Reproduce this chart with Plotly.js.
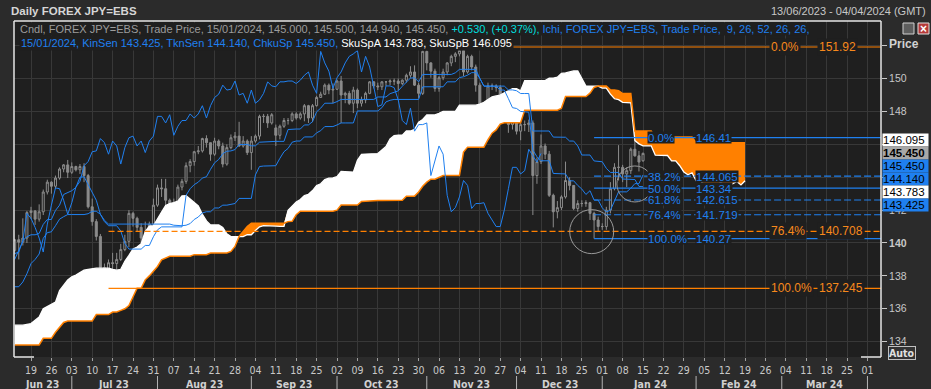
<!DOCTYPE html>
<html><head><meta charset="utf-8">
<script src="https://cdn.plot.ly/plotly-3.0.1.min.js"></script>
<style>html,body{margin:0;padding:0;background:#2b2b2b;}#chart{width:931px;height:389px;}</style>
</head><body><div id="chart"></div>
<script>
// ---------------- DATA ----------------
const START_DATE = '2023-06-13';
const CLOUD_DAYS = 180;      // trading days incl. projected cloud
const SHIFT = 25;            // displacement of cloud / chikou (bars)

const openP = [
139.55,140.20,140.05,140.30,141.85,141.95,141.45,141.90,143.10,143.70,
143.45,143.95,144.50,144.75,144.30,144.65,144.45,144.65,144.10,142.20,
141.30,140.40,138.50,138.05,138.80,138.75,139.00,139.60,140.10,141.80,
141.50,140.95,140.30,139.45,141.15,142.30,143.35,143.30,142.60,141.75,
142.45,143.40,143.75,144.70,144.95,145.55,145.60,146.35,146.10,145.40,
146.20,145.90,144.80,145.80,146.40,146.50,145.90,146.20,145.50,146.20,
146.50,147.70,147.70,147.30,147.00,146.55,147.10,147.45,147.45,147.85,
147.60,147.85,148.35,147.60,148.35,148.85,149.05,149.60,149.30,149.35,
149.85,149.00,149.10,148.50,149.30,148.50,148.70,149.10,149.80,149.55,
149.50,149.80,149.80,149.85,149.85,149.70,149.90,150.20,150.40,149.60,
149.10,151.65,150.95,150.45,149.40,150.05,150.40,150.95,151.35,151.50,
151.70,150.40,151.35,150.70,149.60,148.30,148.40,149.55,149.55,149.45,
148.70,147.45,147.20,148.20,146.80,147.20,147.20,147.30,144.10,144.95,
145.90,145.40,142.90,141.90,142.15,142.80,143.80,143.50,142.10,142.40,
142.40,142.45,141.80,141.40,141.00,141.00,142.00,143.30,144.60,144.60,
144.20,144.40,145.70,145.30,145.00];
const highP = [
140.25,140.50,141.50,141.95,142.20,142.00,142.35,143.25,143.85,143.75,
144.10,144.60,144.80,145.05,144.90,144.70,144.80,144.85,144.20,142.70,
141.45,140.55,138.75,139.00,139.40,139.40,139.95,140.50,142.00,141.90,
141.60,141.20,141.30,141.30,142.70,143.55,143.90,143.90,142.70,142.70,
143.55,143.90,144.90,145.10,145.60,145.90,146.40,146.55,146.10,146.40,
146.30,146.10,146.00,146.60,146.75,147.37,146.50,146.30,146.50,146.60,
147.80,147.85,147.85,147.90,147.20,147.20,147.60,147.60,147.95,147.95,
147.95,148.45,148.40,148.45,148.95,149.20,149.70,149.70,149.70,149.90,
150.16,149.20,149.25,149.50,149.40,148.90,149.20,149.85,149.85,149.75,
149.85,149.85,149.95,150.00,150.00,149.95,150.30,150.75,150.80,149.75,
151.70,151.70,151.00,150.60,150.15,150.60,151.00,151.45,151.60,151.92,
151.90,151.45,151.45,150.85,149.75,148.50,149.75,149.70,149.65,149.60,
148.80,147.60,148.30,148.30,147.30,147.45,147.50,147.45,145.20,146.60,
146.05,145.60,143.00,142.55,142.90,144.95,144.00,143.50,142.60,142.60,
142.60,142.50,141.90,141.60,141.20,142.20,143.70,144.85,145.95,144.75,
144.60,145.80,146.41,145.60,145.50];
const lowP = [
139.30,139.00,139.85,140.00,141.45,141.10,141.30,141.70,142.95,143.00,
143.30,143.85,144.30,143.95,144.20,144.35,144.20,143.70,142.10,141.05,
140.15,138.45,137.70,137.25,138.40,137.70,138.90,139.50,139.75,141.00,
140.70,140.00,138.90,138.05,140.90,142.20,142.80,142.30,141.55,141.50,
142.40,143.20,143.60,144.30,144.70,145.40,145.50,145.80,145.00,145.30,
145.70,144.60,144.70,145.70,146.20,145.85,145.80,145.35,144.45,146.10,
146.30,147.30,147.00,147.20,145.90,146.30,147.00,147.20,147.35,147.50,
147.50,147.40,147.30,147.35,148.30,148.85,149.00,149.05,148.50,149.30,
147.30,148.50,148.40,147.90,148.20,148.30,148.50,149.05,149.40,149.30,
149.30,149.55,149.60,149.60,149.30,149.60,149.75,150.05,149.55,148.80,
149.00,150.50,150.05,149.20,149.20,149.90,150.20,150.75,151.00,151.35,
150.15,150.30,150.50,149.20,148.10,147.15,148.35,149.30,149.20,148.50,
147.40,146.70,146.90,146.60,146.25,146.80,146.75,141.70,143.60,144.80,
145.10,142.80,140.95,141.50,142.00,142.70,143.20,142.00,141.90,142.20,
142.20,141.40,140.27,140.70,140.80,140.80,141.80,143.20,143.80,143.70,
143.40,144.20,145.25,144.35,144.94];
const closeP = [
140.20,140.05,140.30,141.85,141.95,141.45,141.90,143.10,143.70,143.45,
143.95,144.50,144.75,144.30,144.65,144.45,144.65,144.10,142.20,141.30,
140.40,138.50,138.05,138.80,138.75,139.00,139.60,140.10,141.80,141.50,
140.95,140.30,139.45,141.15,142.30,143.35,143.30,142.60,141.75,142.45,
143.40,143.75,144.70,144.95,145.55,145.60,146.35,146.10,145.40,146.20,
145.90,144.80,145.80,146.40,146.50,145.90,146.20,145.50,146.20,146.50,
147.70,147.70,147.30,147.80,146.55,147.10,147.45,147.45,147.85,147.60,
147.85,148.35,147.60,148.35,148.85,149.05,149.60,149.30,149.35,149.85,
149.00,149.10,148.50,149.30,148.50,148.70,149.10,149.80,149.55,149.50,
149.80,149.80,149.85,149.85,149.70,149.90,150.20,150.40,149.60,149.10,
151.65,150.95,150.45,149.40,150.05,150.40,150.95,151.35,151.50,151.70,
150.40,151.35,150.70,149.60,148.30,148.40,149.55,149.55,149.45,148.70,
147.45,147.20,148.20,146.80,147.20,147.20,147.30,144.10,144.95,145.90,
145.40,142.90,141.90,142.15,142.80,143.80,143.50,142.10,142.40,142.40,
142.45,141.80,141.40,141.00,141.00,142.00,143.30,144.60,144.60,144.20,
144.40,145.70,145.30,144.92,145.45];

const tenkan = [
139.35,139.45,140.15,140.38,140.50,140.50,140.58,141.13,141.43,141.43,
141.98,142.30,142.95,143.08,143.18,143.38,144.00,144.03,143.58,143.05,
142.60,141.75,141.30,141.05,141.05,141.05,140.73,139.98,139.63,139.63,
139.63,139.63,139.85,139.85,140.38,140.80,140.98,140.98,140.98,140.98,
140.98,140.98,142.90,143.30,143.55,143.70,143.95,144.03,144.48,144.88,
145.08,145.43,145.58,145.60,145.68,145.99,145.99,145.99,145.91,145.91,
146.13,146.15,146.15,146.18,146.18,146.18,146.18,146.90,146.93,146.93,
146.93,147.18,147.18,147.38,147.98,148.20,148.50,148.50,148.50,148.60,
148.73,148.73,148.73,148.73,148.73,148.73,148.73,148.73,148.73,148.88,
148.88,148.88,149.08,149.15,149.25,149.53,149.80,150.03,150.05,149.80,
150.25,150.25,150.25,150.25,150.25,150.25,150.25,150.25,150.35,150.56,
150.56,150.56,150.56,150.56,150.01,149.54,149.54,149.54,149.53,149.30,
149.30,148.78,148.23,148.18,148.00,147.98,147.95,145.65,145.25,145.00,
145.00,145.00,144.23,144.23,144.23,144.20,143.78,143.78,143.50,143.28,
142.95,143.18,142.61,142.61,142.14,141.89,141.99,142.56,143.11,143.11,
143.11,143.33,143.61,143.61,144.14];
const kijun = [
137.34,137.34,137.63,138.13,138.75,139.00,139.33,140.28,140.63,140.68,
141.05,141.45,141.60,141.73,141.73,141.73,141.73,141.73,141.78,141.93,
141.93,141.75,141.38,141.15,141.15,141.15,141.15,141.15,141.15,141.15,
141.15,141.15,141.15,141.15,141.15,141.15,141.15,141.15,141.15,141.08,
141.05,141.05,141.08,141.18,141.43,141.58,141.83,141.90,141.90,142.13,
142.13,142.30,142.30,142.33,142.40,142.71,142.71,142.71,142.71,144.14,
144.65,144.68,144.68,144.70,144.70,145.15,145.55,145.75,146.13,146.20,
146.20,146.45,146.45,146.45,146.70,146.83,147.08,147.08,147.08,147.18,
147.30,147.30,147.30,147.30,148.03,148.03,148.03,148.03,148.03,148.03,
148.23,148.58,148.68,148.73,148.73,148.73,148.73,148.73,148.73,148.73,
149.50,149.50,149.50,149.50,149.50,149.50,149.80,149.80,149.80,150.06,
150.11,150.21,150.36,150.36,150.01,149.54,149.54,149.54,149.54,149.54,
149.54,149.31,149.31,149.26,149.09,149.09,149.09,146.81,146.81,146.81,
146.81,146.81,146.44,146.44,146.44,146.43,146.20,146.20,145.90,145.35,
145.35,145.35,144.99,144.96,144.94,144.54,144.29,144.29,144.29,143.89,
143.89,143.89,143.86,143.44,143.425];
const spanA = [
135.00,135.00,135.00,135.05,135.10,135.30,135.50,136.00,136.15,136.25,
136.40,137.10,137.45,137.75,137.95,138.05,138.20,138.35,138.40,138.45,
138.47,138.47,138.47,138.47,138.40,
138.35,138.40,138.89,139.25,139.63,139.75,139.95,140.70,141.03,141.05,
141.51,141.88,142.28,142.40,142.45,142.55,142.86,142.88,142.68,142.49,
142.26,141.75,141.34,141.10,141.10,141.10,140.94,140.56,140.39,140.39,
140.39,140.39,140.50,140.50,140.76,140.98,141.06,141.06,141.06,141.03,
141.01,141.01,141.99,142.24,142.49,142.64,142.89,142.96,143.19,143.50,
143.60,143.86,143.94,143.96,144.04,144.35,144.35,144.35,144.31,145.03,
145.39,145.41,145.41,145.44,145.44,145.66,145.86,146.33,146.53,146.56,
146.56,146.81,146.81,146.91,147.34,147.51,147.79,147.79,147.79,147.89,
148.01,148.01,148.01,148.01,148.38,148.38,148.38,148.38,148.38,148.45,
148.55,148.73,148.88,148.94,148.99,149.13,149.26,149.38,149.39,149.26,
149.88,149.88,149.88,149.88,149.88,149.88,150.03,150.03,150.08,150.31,
150.34,150.39,150.46,150.46,150.01,149.54,149.54,149.54,149.54,149.42,
149.42,149.05,148.77,148.72,148.55,148.54,148.52,146.23,146.03,145.91,
145.91,145.91,145.34,145.34,145.34,145.32,144.99,144.99,144.70,144.32,
144.15,144.27,143.80,143.79,143.54,143.22,143.14,143.43,143.70,143.50,
143.50,143.61,143.74,143.53,143.783];
const spanB = [
133.80,133.80,133.80,133.80,133.80,133.80,133.80,134.20,134.20,134.20,
134.57,134.90,135.17,135.25,135.25,135.25,135.25,135.25,135.25,135.25,
135.65,135.65,135.65,135.65,135.80,135.80,135.90,136.00,136.20,136.75,
137.25,137.25,137.76,138.00,138.27,138.57,138.98,139.08,139.19,139.19,
139.19,139.19,139.19,139.19,139.29,139.29,139.29,139.29,139.39,139.39,
139.39,139.39,139.39,139.49,139.79,140.40,140.70,141.00,141.20,141.20,
141.20,141.20,141.20,141.20,141.20,141.20,141.20,141.30,141.32,141.72,
141.93,141.93,141.93,141.93,141.93,141.93,141.93,141.90,141.93,142.00,
142.31,142.31,142.31,142.31,142.31,142.53,142.55,142.55,142.58,142.58,
142.58,142.58,142.58,142.60,142.60,142.60,142.85,142.85,142.85,143.10,
143.45,143.70,143.88,143.88,143.98,144.10,144.10,144.10,144.10,144.10,
145.53,145.83,145.83,145.83,145.83,145.83,146.28,146.68,146.88,147.23,
147.31,147.31,147.31,147.31,147.31,148.08,148.08,148.08,148.08,148.08,
148.08,148.08,148.08,148.08,148.19,148.91,148.91,148.91,148.91,148.91,
148.91,149.11,149.46,149.54,149.54,149.54,149.31,149.31,149.26,149.09,
149.09,149.09,146.81,146.81,146.81,146.81,146.81,146.44,146.44,146.44,
146.44,146.44,146.44,146.44,146.44,146.44,146.44,146.10,146.10,146.10,
146.10,146.10,146.10,146.10,146.10,146.10,146.10,146.10,146.10,146.095];

// Fibonacci retracements
const fibOrangeAnchor = '2023-07-14';
const fibOrangeLevels = [151.92, 140.708, 137.245];
const fibOrangePct    = ['0.0%', '76.4%', '100.0%'];
const fibOrangeText   = ['151.92', '140.708', '137.245'];
const fibOrangeDash   = ['solid', 'dash', 'solid'];
const fibBlueAnchor = '2023-12-28';
const fibBlueLevels = [146.41, 144.065, 143.34, 142.615, 141.719, 140.27];
const fibBluePct    = ['0.0%', '38.2%', '50.0%', '61.8%', '76.4%', '100.0%'];
const fibBlueText   = ['146.41', '144.065', '143.34', '142.615', '141.719', '140.27'];
const fibBlueDash   = ['solid', 'dash', 'solid', 'dash', 'dash', 'solid'];

// Circles drawn on the chart (center date, center price, radius px)
const circleDates  = ['2023-12-27 10:00', '2024-01-11 00:00'];
const circlePrices = [140.69, 143.59];
const circleRadius = [22, 18];

// Axis labels
const FIRST_MONDAY = '2023-06-19';
const weekTickLabels = ['19','26','03','10','17','24','31','07','14','21','28','04','11','18','25',
 '02','09','16','23','30','06','13','20','27','04','11','18','25','01','08','15','22','29',
 '05','12','19','26','04','11','18','25','01'];
const monthLabels = ['Jun 23','Jul 23','Aug 23','Sep 23','Oct 23','Nov 23','Dec 23','Jan 24','Feb 24','Mar 24'];
const monthLabelDates = ['2023-06-21 14:00','2023-07-17 07:00','2023-08-16 10:00','2023-09-15 12:00',
 '2023-10-17 00:00','2023-11-16 00:00','2023-12-15 14:00','2024-01-16 17:00','2024-02-15 12:00','2024-03-15 14:00'];
const monthStarts = ['2023-07-03','2023-08-01','2023-09-01','2023-10-02','2023-11-01','2023-12-01',
 '2024-01-01','2024-02-01','2024-03-01','2024-04-01'];
// tick labels hidden in the reference behind the price tags / "Price" title are left blank
const yTicks = [134,136,138,140,142,144,146,148,150,152];
const yTickText = ['134','136','138','<b>140</b>','142','','','148','150',''];

// ---------------- LAYOUT CONSTANTS ----------------
const W = 931, H = 389;
const M = {l:14, r:50, t:21, b:32};
const PW = W - M.l - M.r, PH = H - M.t - M.b;
const X_RANGE = ['2023-06-12 20:00', '2024-04-04 07:40'];
const Y_RANGE = [133.067, 153.50];
const BLUE = '#1f80f0', ORANGE = '#ff8000', GRID = '#383838', PLOTBG = '#1f1f1f';
const px2px = v => 1 - ((v) - M.t) / PH;              // pixel y -> paper y
const pxx = x => (x - M.l) / PW;                       // pixel x -> paper x
const valPix = v => M.t + (Y_RANGE[1] - v) / (Y_RANGE[1] - Y_RANGE[0]) * PH;

// ---------------- DERIVED ----------------
function weekdays(start, n) {
  const out = []; const d = new Date(start + 'T00:00:00Z');
  while (out.length < n) { const wd = d.getUTCDay(); if (wd !== 0 && wd !== 6) out.push(d.toISOString().slice(0,10)); d.setUTCDate(d.getUTCDate()+1); }
  return out;
}
const dates = weekdays(START_DATE, CLOUD_DAYS);
const nC = closeP.length;
const candleDates = dates.slice(0, nC);
const cloudDates = dates.slice(0, spanA.length);
const cloudMax = spanA.map((a, k) => Math.max(a, spanB[k]));
const chikouX = dates.slice(0, nC - SHIFT);
const chikouY = closeP.slice(SHIFT);

const tickvals = [];
{ const d = new Date(FIRST_MONDAY + 'T00:00:00Z');
  for (let k = 0; k < weekTickLabels.length; k++) { tickvals.push(d.toISOString().slice(0,10)); d.setUTCDate(d.getUTCDate()+7); } }

// ---------------- TRACES ----------------
const noLine = {width:0, color:'rgba(0,0,0,0)'};
const traces = [
  {x:cloudDates, y:spanB, mode:'lines', line:noLine, hoverinfo:'skip'},
  {x:cloudDates, y:cloudMax, mode:'lines', line:noLine, fill:'tonexty', fillcolor:'#ffffff', hoverinfo:'skip'},
  {x:cloudDates, y:spanA, mode:'lines', line:noLine, hoverinfo:'skip'},
  {x:cloudDates, y:cloudMax, mode:'lines', line:noLine, fill:'tonexty', fillcolor:ORANGE, hoverinfo:'skip'},
  {x:cloudDates, y:spanA, mode:'lines', line:{color:'#ffffff', width:1.3}, hoverinfo:'skip'},
  {x:cloudDates, y:spanB, mode:'lines', line:{color:ORANGE, width:1.5}, hoverinfo:'skip'},
  {type:'candlestick', x:candleDates, open:openP, high:highP, low:lowP, close:closeP,
   increasing:{line:{color:'#8c8c8c', width:1}, fillcolor:PLOTBG},
   decreasing:{line:{color:'#8c8c8c', width:1}, fillcolor:'#8c8c8c'},
   whiskerwidth:0, hoverinfo:'skip'},
  {x:candleDates, y:kijun, mode:'lines', line:{color:BLUE, width:1}, hoverinfo:'skip'},
  {x:candleDates, y:tenkan, mode:'lines', line:{color:BLUE, width:1}, hoverinfo:'skip'},
  {x:chikouX, y:chikouY, mode:'lines', line:{color:BLUE, width:1}, hoverinfo:'skip'}
];

// ---------------- SHAPES ----------------
const shapes = [];
fibOrangeLevels.forEach((lv, k) => shapes.push({type:'line', xref:'x', yref:'y', x0:fibOrangeAnchor, x1:X_RANGE[1], y0:lv, y1:lv,
  line:{color:ORANGE, width:1.2, dash: fibOrangeDash[k] === 'dash' ? '6px,3px' : 'solid'}}));
fibBlueLevels.forEach((lv, k) => shapes.push({type:'line', xref:'x', yref:'y', x0:fibBlueAnchor, x1:X_RANGE[1], y0:lv, y1:lv,
  line:{color:BLUE, width:1.2, dash: fibBlueDash[k] === 'dash' ? '7px,3px' : 'solid'}}));
circleDates.forEach((d, k) => shapes.push({type:'circle', xref:'x', yref:'y', xsizemode:'pixel', ysizemode:'pixel',
  xanchor:d, yanchor:circlePrices[k], x0:-circleRadius[k], x1:circleRadius[k], y0:-circleRadius[k], y1:circleRadius[k],
  line:{color:'#9a9a9a', width:1}}));
// frame
const FR = '#e6e6e6';
shapes.push({type:'line', xref:'paper', yref:'paper', x0:0, x1:1, y0:1, y1:1, line:{color:FR, width:1.5}});
shapes.push({type:'line', xref:'paper', yref:'paper', x0:0, x1:0, y0:0, y1:1, line:{color:FR, width:1.5}});
shapes.push({type:'line', xref:'paper', yref:'paper', x0:1, x1:1, y0:0, y1:1, line:{color:FR, width:1.5}});
shapes.push({type:'line', xref:'paper', yref:'paper', x0:0, x1:pxx(34), y0:0, y1:0, line:{color:FR, width:1.5}});
shapes.push({type:'line', xref:'paper', yref:'paper', x0:pxx(861), x1:1, y0:0, y1:0, line:{color:FR, width:1.5}});
// month separators
monthStarts.forEach(d => shapes.push({type:'line', xref:'x', yref:'paper', x0:d, x1:d, y0:px2px(376), y1:px2px(389), line:{color:'#b4b4b4', width:1}}));
// window icons
shapes.push({type:'rect', xref:'paper', yref:'paper', x0:pxx(903), x1:pxx(914), y0:px2px(34), y1:px2px(23), fillcolor:'#5e5e5e', line:{color:'#d0d0d0', width:1}});
shapes.push({type:'rect', xref:'paper', yref:'paper', x0:pxx(918), x1:pxx(929), y0:px2px(34), y1:px2px(23), fillcolor:'#b53a3a', line:{color:'#e0e0e0', width:1}});

// ---------------- ANNOTATIONS ----------------
const ann = [];
const FONT = 'Liberation Sans, Arial, sans-serif';
const NARROW = 'Liberation Sans Narrow, DejaVu Sans Condensed, Arial Narrow, Liberation Sans, sans-serif';
// title & date range
ann.push({xref:'paper', yref:'paper', x:pxx(9), y:px2px(10.5), xanchor:'left', yanchor:'middle', showarrow:false,
  text:'<b>Daily FOREX JPY=EBS</b>', font:{family:FONT, size:11.5, color:'#d6d6d6'}});
ann.push({xref:'paper', yref:'paper', x:pxx(928), y:px2px(10.5), xanchor:'right', yanchor:'middle', showarrow:false,
  text:'13/06/2023 - 04/04/2024 (GMT)', font:{family:FONT, size:11, color:'#c8c8c8'}});
// header lines built from data
const last = nC - 1;
const dParts = candleDates[last].split('-');
const dStr = dParts[2] + '/' + dParts[1] + '/' + dParts[0];
const chg = closeP[last] - closeP[last-1];
const pct = chg / closeP[last-1] * 100;
const line1 = 'Cndl, FOREX JPY=EBS, Trade Price, ' + dStr + ', ' + openP[last].toFixed(3) + ', ' + highP[last].toFixed(3) + ', ' +
  lowP[last].toFixed(3) + ', ' + closeP[last].toFixed(3) + ', ' +
  '<span style="color:#00dede">' + (chg>=0?'+':'') + chg.toFixed(3) + ', (' + (pct>=0?'+':'') + pct.toFixed(2) + '%),</span>' +
  '<span style="color:' + BLUE + '"> Ichi, FOREX JPY=EBS, Trade Price,  9, 26, 52, 26, 26,</span>';
const line2 = '<span style="color:' + BLUE + '">' + dStr + ', KinSen ' + kijun[last].toFixed(3) + ', TknSen ' + tenkan[last].toFixed(3) +
  ', ChkuSp ' + closeP[last].toFixed(3) + ',</span> <span style="color:#ffffff">SkuSpA ' + spanA[spanA.length-1].toFixed(3) +
  ', SkuSpB ' + spanB[spanB.length-1].toFixed(3) + '</span>';
ann.push({xref:'paper', yref:'paper', x:pxx(19), y:px2px(29), xanchor:'left', yanchor:'middle', showarrow:false,
  text:line1, font:{family:FONT, size:11, color:'#9c9c9c'}, bgcolor:PLOTBG, borderpad:0});
ann.push({xref:'paper', yref:'paper', x:pxx(19), y:px2px(43.5), xanchor:'left', yanchor:'middle', showarrow:false,
  text:line2, font:{family:FONT, size:11, color:BLUE}, bgcolor:PLOTBG, borderpad:1});
// fib labels
fibOrangeLevels.forEach((lv, k) => {
  ann.push({xref:'paper', yref:'y', x:pxx(769), y:lv, xanchor:'left', yanchor:'middle', showarrow:false, text:fibOrangePct[k],
    font:{family:FONT, size:12, color:'#f7891c'}, bgcolor:PLOTBG, borderpad:1});
  ann.push({xref:'paper', yref:'y', x:pxx(817), y:lv, xanchor:'left', yanchor:'middle', showarrow:false, text:fibOrangeText[k],
    font:{family:FONT, size:12, color:'#f7891c'}, bgcolor:PLOTBG, borderpad:1});
});
fibBlueLevels.forEach((lv, k) => {
  ann.push({xref:'paper', yref:'y', x:pxx(647), y:lv, xanchor:'left', yanchor:'middle', showarrow:false, text:fibBluePct[k],
    font:{family:FONT, size:11.5, color:BLUE}, bgcolor:PLOTBG, borderpad:0, height:11});
  ann.push({xref:'paper', yref:'y', x:pxx(695), y:lv, xanchor:'left', yanchor:'middle', showarrow:false, text:fibBlueText[k],
    font:{family:FONT, size:11.5, color:BLUE}, bgcolor:PLOTBG, borderpad:0, height:11});
});
// month labels
monthLabels.forEach((m, k) => ann.push({xref:'x', yref:'paper', x:monthLabelDates[k], y:px2px(383.5), xanchor:'center', yanchor:'middle',
  showarrow:false, text:'<b>' + m + '</b>', font:{family:NARROW, size:10.5, color:'#d0d0d0'}}));
// right-hand price tags
const tagValues = [spanB[spanB.length-1], closeP[last], closeP[last], tenkan[last], spanA[spanA.length-1], kijun[last]];
const tagBg     = ['#ffffff', '#a8a8a8', BLUE, BLUE, '#ffffff', BLUE];
const tagBold   = [false, true, false, false, false, false];
const PRIORITY = 1, GAP = 13;
const tagPos = tagValues.map(valPix);
for (let k = PRIORITY - 1; k >= 0; k--) tagPos[k] = Math.min(tagPos[k], tagPos[k+1] - GAP);
for (let k = PRIORITY + 1; k < tagPos.length; k++) tagPos[k] = Math.max(tagPos[k], tagPos[k-1] + GAP);
tagValues.forEach((v, k) => ann.push({xref:'paper', yref:'paper', x:1, xshift:1, y:px2px(tagPos[k]), xanchor:'left', yanchor:'middle',
  showarrow:false, text: tagBold[k] ? '<b>' + v.toFixed(3) + '</b>' : v.toFixed(3), bgcolor:tagBg[k], width:45, height:12, borderpad:0,
  align:'left', font:{family:FONT, size:11.5, color:'#000000'}}));
// Price / Auto / icon
ann.push({xref:'paper', yref:'paper', x:pxx(887), y:px2px(44), xanchor:'left', yanchor:'middle', showarrow:false,
  text:'<b>Price</b>', font:{family:FONT, size:12, color:'#d2d2d2'}});
ann.push({xref:'paper', yref:'paper', x:pxx(888), y:px2px(352.5), xanchor:'left', yanchor:'middle', showarrow:false,
  text:'<b>Auto</b>', font:{family:NARROW, size:10.5, color:'#e0e0e0'}, bordercolor:'#c0c0c0', borderwidth:1, bgcolor:'#333333', borderpad:0});
ann.push({xref:'paper', yref:'paper', x:pxx(923.5), y:px2px(28.5), xanchor:'center', yanchor:'middle', showarrow:false,
  text:'<b>×</b>', font:{family:FONT, size:12, color:'#ffffff'}});

const layout = {
  width:W, height:H, margin:{l:M.l, r:M.r, t:M.t, b:M.b, pad:0},
  paper_bgcolor:'#2b2b2b', plot_bgcolor:PLOTBG, showlegend:false, hovermode:false,
  font:{family:FONT, color:'#c8c8c8', size:11},
  xaxis:{type:'date', range:X_RANGE, rangebreaks:[{bounds:['sat','mon']}], rangeslider:{visible:false},
    tickmode:'array', tickvals:tickvals, ticktext:weekTickLabels, ticks:'outside', ticklen:3, tickcolor:'#a0a0a0',
    tickfont:{family:NARROW, size:10.5, color:'#c8c8c8'}, showgrid:true, gridcolor:GRID, gridwidth:1,
    showline:false, zeroline:false, fixedrange:true},
  yaxis:{side:'right', range:Y_RANGE, tickmode:'array', tickvals:yTicks, ticktext:yTickText, ticks:'outside', ticklen:5,
    tickcolor:'#c8c8c8', tickfont:{family:FONT, size:10.5, color:'#c8c8c8'}, showgrid:true, gridcolor:GRID, gridwidth:1,
    zeroline:false, showline:false, fixedrange:true},
  shapes:shapes, annotations:ann
};
Plotly.newPlot('chart', traces, layout, {staticPlot:true, displayModeBar:false});
</script>
</body></html>
